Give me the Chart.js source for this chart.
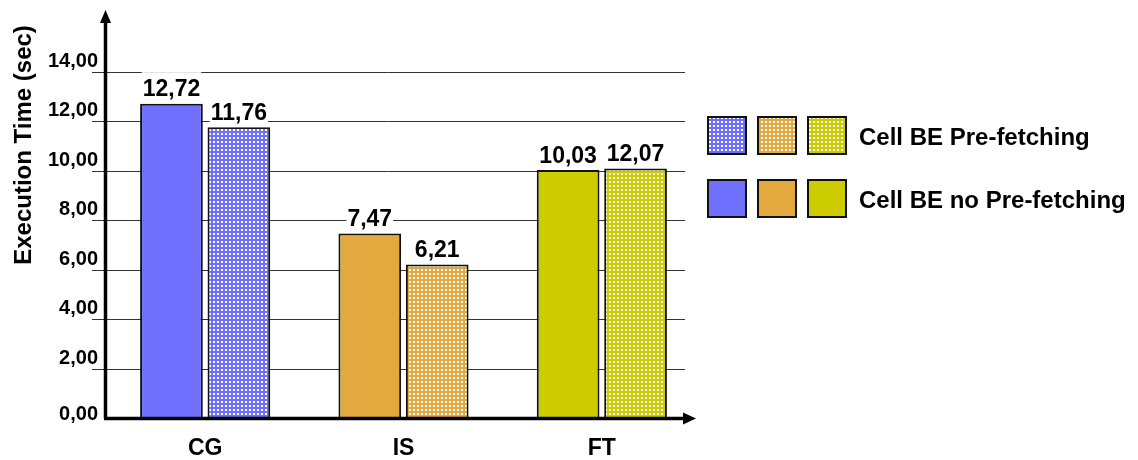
<!DOCTYPE html>
<html>
<head>
<meta charset="utf-8">
<script src="https://cdn.jsdelivr.net/npm/chart.js@4.4.0/dist/chart.umd.min.js"></script>
<style>
  html, body { margin: 0; padding: 0; background: #fff; }
  #wrap { width: 1138px; height: 460px; position: relative; }
</style>
</head>
<body>
<div id="wrap"><canvas id="chart"></canvas></div>
<script>
// execution time, Cell BE with / without pre-fetching

const categories = ["CG", "IS", "FT"];
const seriesNames = ["Cell BE no Pre-fetching", "Cell BE Pre-fetching"];
const noPrefetch = [12.72, 7.47, 10.03];
const prefetch = [11.76, 6.21, 10.1];
const noPrefetchLabels = ["12,72", "7,47", "10,03"];
const prefetchLabels = ["11,76", "6,21", "12,07"];
const yTicks = [0, 2, 4, 6, 8, 10, 12, 14];
const yTitle = "Execution Time (sec)";

const colors = ["#7070ff", "#e3a93e", "#cccc00"];
const FONT = "'Liberation Sans', Arial, sans-serif";

// white squares on a coloured ground, like the original hatch fill
function checker(color) {
  const c = document.createElement("canvas");
  c.width = 4;
  c.height = 4;
  const g = c.getContext("2d");
  g.fillStyle = color;
  g.fillRect(0, 0, 4, 4);
  g.fillStyle = "#fff";
  g.fillRect(1, 1, 2, 2);
  return g.createPattern(c, "repeat");
}

const patterns = colors.map(checker);

const decor = {
  id: "decor",

  beforeDatasetsDraw(chart) {
    const { ctx, chartArea: { left, right }, scales: { y } } = chart;
    ctx.save();

    // grid lines
    ctx.strokeStyle = "#333";
    ctx.lineWidth = 1;
    yTicks.forEach((v) => {
      if (v === 0) return;
      const py = Math.round(y.getPixelForValue(v)) + 0.5;
      ctx.beginPath();
      ctx.moveTo(left - 14, py);
      ctx.lineTo(right - 16, py);
      ctx.stroke();
    });

    // tick labels (sit just above their line)
    ctx.fillStyle = "#000";
    ctx.font = "bold 20px " + FONT;
    ctx.textAlign = "right";
    ctx.textBaseline = "alphabetic";
    yTicks.forEach((v) => {
      const py = y.getPixelForValue(v);
      const txt = v.toFixed(2).replace(".", ",");
      ctx.fillText(txt, left - 8, v === 0 ? py + 2 : py - 5);
    });

    // axis title
    ctx.translate(31, 145);
    ctx.rotate(-Math.PI / 2);
    ctx.font = "bold 24px " + FONT;
    ctx.textAlign = "center";
    ctx.fillText(yTitle, 0, 0);
    ctx.restore();
  },

  afterDatasetsDraw(chart) {
    const { ctx, chartArea: { left, right, bottom } } = chart;
    ctx.save();

    // value labels on white boxes
    ctx.font = "bold 23px " + FONT;
    ctx.textAlign = "center";
    ctx.textBaseline = "alphabetic";
    [noPrefetchLabels, prefetchLabels].forEach((texts, di) => {
      chart.getDatasetMeta(di).data.forEach((bar, i) => {
        const base = bar.y - 7.5;
        const w = ctx.measureText(texts[i]).width;
        ctx.fillStyle = "#fff";
        ctx.fillRect(bar.x - w / 2 - 1, base - 24, w + 2, 27);
        ctx.fillStyle = "#000";
        ctx.fillText(texts[i], bar.x, base);
      });
    });

    // axes with arrows
    ctx.strokeStyle = "#000";
    ctx.fillStyle = "#000";
    ctx.lineWidth = 3.5;
    ctx.beginPath();
    ctx.moveTo(left - 0.5, bottom + 0.5);
    ctx.lineTo(left - 0.5, 20);
    ctx.moveTo(left - 2, bottom + 0.5);
    ctx.lineTo(right - 12, bottom + 0.5);
    ctx.stroke();

    ctx.beginPath();
    ctx.moveTo(left - 0.5, 10);
    ctx.lineTo(left - 6, 23);
    ctx.lineTo(left + 5, 23);
    ctx.closePath();
    ctx.fill();

    ctx.beginPath();
    ctx.moveTo(right - 5, bottom + 0.5);
    ctx.lineTo(right - 18, bottom - 5.5);
    ctx.lineTo(right - 18, bottom + 6.5);
    ctx.closePath();
    ctx.fill();

    // legend: patterned row first, then solid row
    const rows = [
      { fills: patterns, text: seriesNames[1], top: 117 },
      { fills: colors, text: seriesNames[0], top: 180 },
    ];
    ctx.lineWidth = 2;
    ctx.strokeStyle = "#111";
    rows.forEach((row) => {
      row.fills.forEach((f, i) => {
        const x = 708 + i * 50;
        ctx.fillStyle = f;
        ctx.fillRect(x, row.top, 38, 37);
        ctx.strokeRect(x, row.top, 38, 37);
      });
      ctx.fillStyle = "#000";
      ctx.font = "bold 24px " + FONT;
      ctx.textAlign = "left";
      ctx.fillText(row.text, 859, row.top + 28);
    });

    ctx.restore();
  },
};

const data = {
  labels: categories,
  datasets: [
    {
      label: seriesNames[0],
      data: noPrefetch,
      backgroundColor: colors,
      borderColor: "#111",
      borderWidth: 2,
    },
    {
      label: seriesNames[1],
      data: prefetch,
      backgroundColor: patterns,
      borderColor: "#111",
      borderWidth: 2,
    },
  ],
};

const options = {
  responsive: true,
  maintainAspectRatio: false,
  animation: false,
  devicePixelRatio: 1,
  layout: { padding: { top: 72, right: 437, left: 0, bottom: 0 } },
  datasets: {
    bar: { categoryPercentage: 0.68, barPercentage: 0.93 },
  },
  scales: {
    x: {
      grid: { display: false, drawTicks: false },
      border: { display: false },
      ticks: {
        color: "#000",
        font: { family: FONT, size: 23, weight: "bold" },
        padding: 17,
      },
      afterFit(scale) { scale.height = 42; },
    },
    y: {
      min: 0,
      max: 14,
      grid: { display: false, drawTicks: false },
      border: { display: false },
      ticks: { display: false, stepSize: 2 },
      afterFit(scale) { scale.width = 106; },
    },
  },
  plugins: {
    legend: { display: false },
    tooltip: { enabled: false },
  },
};

new Chart(document.getElementById("chart"), {
  type: "bar",
  data: data,
  options: options,
  plugins: [decor],
});
</script>
</body>
</html>
